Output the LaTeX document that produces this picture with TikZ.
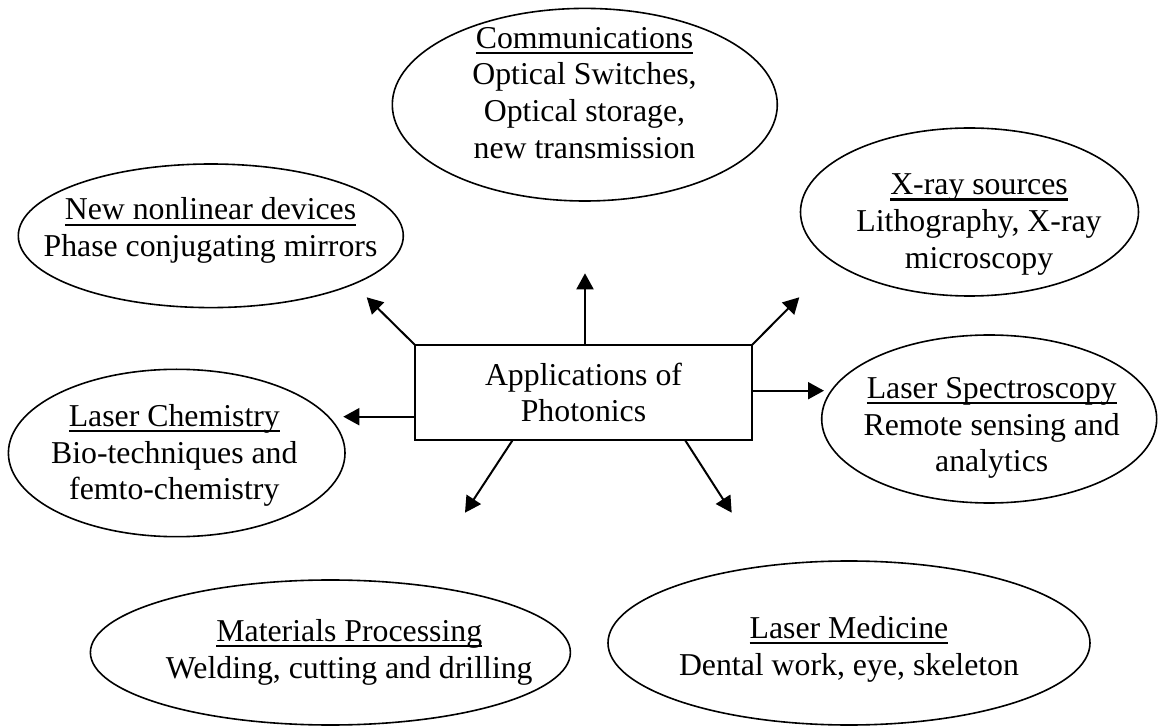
\documentclass[tikz,border=0pt]{standalone}
\usepackage{fontspec}
\setmainfont{Liberation Serif}
\usetikzlibrary{shapes.geometric,arrows.meta,calc}
% heading with an underline set at a fixed depth below the baseline
\newcommand\ulhead[1]{\setbox0=\hbox{#1}\rlap{\rule[-2.9pt]{\wd0}{1.1pt}}\box0}
\begin{document}
\begin{tikzpicture}[x=0.5pt,y=-0.5pt,
  bubble/.style={ellipse,draw,line width=0.8pt,inner sep=0pt,outer sep=0pt},
  % anchored at the baseline of the last line
  bubbletext/.style={align=center,anchor=base,inner sep=0pt,
    font=\fontsize{15.9}{18.35}\selectfont},
  hub/.style={draw,line width=1.1pt,inner sep=0pt,outer sep=0pt,align=center,
    minimum width=168.5pt,minimum height=47.5pt,
    font=\fontsize{15.9}{18.35}\selectfont},
  link/.style={line width=1pt,-{Triangle[length=8pt,width=8.5pt]}}
]
\fill[white] (0,0) rectangle (1158,727);
\useasboundingbox (0,0) rectangle (1158,727);

% central box
\node[hub] (app) at (583.5,392.5) {Applications of\\Photonics};

% application areas
\node[bubble,minimum width=192.5pt,minimum height=96.3pt] (comm) at (584.8,104.7) {};
\node[bubbletext] (commtext) at (584.5,158.4)
  {\ulhead{Communications}\\Optical Switches,\\Optical storage,\\new transmission};

\node[bubble,minimum width=192.5pt,minimum height=71.8pt] (nonlin) at (210.8,235.8) {};
\node[bubbletext] (nonlintext) at (210.5,256.7)
  {\ulhead{New nonlinear devices}\\Phase conjugating mirrors};

\node[bubble,minimum width=169pt,minimum height=84pt] (xray) at (969.5,212) {};
\node[bubbletext] (xraytext) at (979,268.3)
  {\ulhead{X-ray sources}\\Lithography, X-ray\\microscopy};

\node[bubble,minimum width=168.3pt,minimum height=83.7pt] (chem) at (176.7,453) {};
\node[bubbletext] (chemtext) at (174.3,500)
  {\ulhead{Laser Chemistry}\\Bio-techniques and\\femto-chemistry};

\node[bubble,minimum width=167.5pt,minimum height=84pt] (spec) at (989.2,419) {};
\node[bubbletext] (spectext) at (991.7,471.7)
  {\ulhead{Laser Spectroscopy}\\Remote sensing and\\analytics};

\node[bubble,minimum width=240pt,minimum height=72.5pt] (mat) at (330.4,652.5) {};
\node[bubbletext] (mattext) at (349.3,678.3)
  {\ulhead{Materials Processing}\\Welding, cutting and drilling};

\node[bubble,minimum width=241pt,minimum height=82pt] (med) at (849,643) {};
\node[bubbletext] (medtext) at (849,675)
  {\ulhead{Laser Medicine}\\Dental work, eye, skeleton};

% arrow tips
\coordinate (tipN)  at (585,273.3);
\coordinate (tipNW) at (366.7,297.3);
\coordinate (tipNE) at (799.3,297.3);
\coordinate (tipW)  at (343.3,416.7);
\coordinate (tipE)  at (824,390.7);
\coordinate (tipSW) at (465,512.7);
\coordinate (tipSE) at (731.7,512.7);

% arrows out of the central box
\draw[link] (app.north -| tipN) -- (tipN);
\draw[link] (app.north west) -- (tipNW);
\draw[link] (app.north east) -- (tipNE);
\draw[link] (app.west |- tipW) -- (tipW);
\draw[link] (app.east |- tipE) -- (tipE);
\draw[link] ($(app.south west)+(97.7,0)$) -- (tipSW);
\draw[link] ($(app.south west)+(270,0)$) -- (tipSE);
\end{tikzpicture}
\end{document}
